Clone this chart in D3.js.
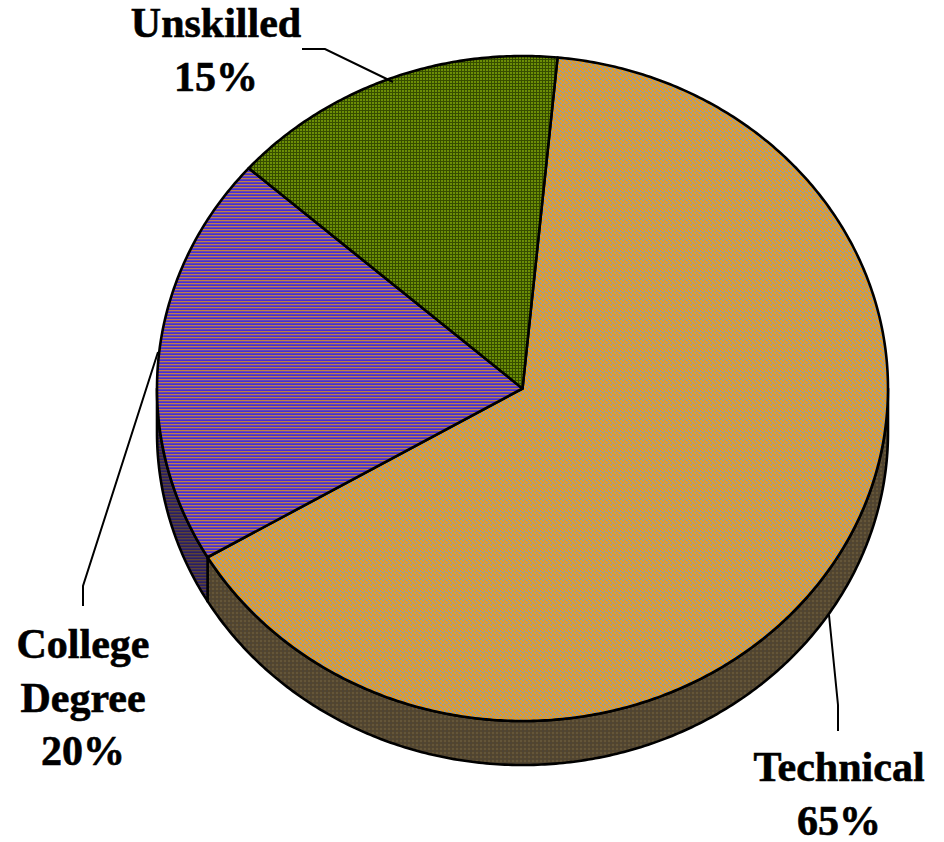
<!DOCTYPE html>
<html>
<head>
<meta charset="utf-8">
<script src="https://cdn.jsdelivr.net/npm/d3@7"></script>
<style>
  html, body { margin: 0; padding: 0; background: #fff; }
  svg { display: block; }
</style>
</head>
<body>
<svg id="chart" width="944" height="842"></svg>
<script>
// ---- data ----
const categories = ["Technical", "College Degree", "Unskilled"];
const values = [65, 20, 15];
const labelLines = [["Technical", "65%"], ["College", "Degree", "20%"], ["Unskilled", "15%"]];

// ---- layout ----
const W = 944, H = 842;
const cx = 522.5, cy = 388.5, rx = 365.5, ry = 332.5, depth = 44;
const startDeg = 5.5;

const svg = d3.select("#chart");
const defs = svg.append("defs");

function mkPattern(id, size, bg, rects) {
  const p = defs.append("pattern").attr("id", id)
    .attr("patternUnits", "userSpaceOnUse")
    .attr("width", size[0]).attr("height", size[1]);
  p.append("rect").attr("width", size[0]).attr("height", size[1]).attr("fill", bg);
  rects.forEach(r => p.append("rect").attr("x", r[0]).attr("y", r[1])
    .attr("width", r[2]).attr("height", r[3]).attr("fill", r[4]));
}
// Technical top: orange dots on grey
mkPattern("techTop", [4, 4], "#9a9c98", [[0,0,2,2,"#e89c22"],[2,2,2,2,"#e89c22"],[1,1,2,2,"#dc9c34"]]);
// Technical side: dark
mkPattern("techSide", [4, 4], "#54462e", [[0,0,2,2,"#64563a"],[2,2,2,2,"#4e4434"]]);
// College top: horizontal stripes
mkPattern("colTop", [4, 3], "#6248b8", [[0,0,4,1,"#482ed0"],[0,1,4,1,"#c07e46"]]);
// College side: dark stripes
mkPattern("colSide", [4, 3], "#3a2e5c", [[0,0,4,1,"#2a1e64"],[0,1,4,1,"#5e4430"]]);
// Unskilled top: green grid
mkPattern("unsTop", [3, 3], "#6c8e06", [[0,2,3,1,"#364c00"],[2,0,1,3,"#364c00"]]);
mkPattern("unsSide", [3, 3], "#3e5000", [[0,2,3,1,"#243200"],[2,0,1,3,"#243200"]]);

const topFill = ["url(#techTop)", "url(#colTop)", "url(#unsTop)"];
const sideFill = ["url(#techSide)", "url(#colSide)", "url(#unsSide)"];

const pie = d3.pie().sort(null)
  .startAngle(startDeg * Math.PI / 180)
  .endAngle(startDeg * Math.PI / 180 + 2 * Math.PI);
const arcs = pie(values);

function pt(a, dy) {
  return [cx + rx * Math.sin(a), cy - ry * Math.cos(a) + (dy || 0)];
}
function arcPts(a0, a1, dy) {
  const n = Math.max(2, Math.ceil(Math.abs(a1 - a0) / 0.01));
  return d3.range(n + 1).map(i => pt(a0 + (a1 - a0) * i / n, dy));
}
const line = d3.line();

const g = svg.append("g");

// sides (visible front half: PI/2 .. 3PI/2)
arcs.forEach((d, i) => {
  const s0 = Math.max(d.startAngle, Math.PI / 2);
  const s1 = Math.min(d.endAngle, 3 * Math.PI / 2);
  if (s0 < s1) {
    const pts = arcPts(s0, s1, 0).concat(arcPts(s1, s0, depth));
    g.append("path").attr("d", line(pts) + "Z")
      .attr("fill", sideFill[i])
      .attr("stroke", "#000").attr("stroke-width", 2.6)
      .attr("stroke-linejoin", "round");
  }
});

// tops
arcs.forEach((d, i) => {
  const pts = [[cx, cy]].concat(arcPts(d.startAngle, d.endAngle, 0));
  g.append("path").attr("d", line(pts) + "Z")
    .attr("fill", topFill[i])
    .attr("stroke", "#000").attr("stroke-width", 2.6)
    .attr("stroke-linejoin", "round");
});

// leader lines
const leaders = [
  [[838, 731], [838, 705], [829, 615]],
  [[83, 606], [83, 586], [158, 352]],
  [[302, 49], [325, 49], [393, 82]]
];
leaders.forEach(l => {
  g.append("path").attr("d", d3.line().curve(d3.curveLinear)(l))
    .attr("fill", "none").attr("stroke", "#000").attr("stroke-width", 2);
});

// labels
const labelPos = [
  { x: 839, y: 781 },
  { x: 83, y: 658 },
  { x: 216, y: 37 }
];
const lineH = 53.5;
labelLines.forEach((lines, i) => {
  const t = svg.append("text")
    .attr("text-anchor", "middle")
    .attr("font-family", "'Liberation Serif', 'Times New Roman', serif")
    .attr("font-weight", "bold")
    .attr("font-size", 42)
    .attr("fill", "#000")
    .attr("stroke", "#000").attr("stroke-width", 0.6);
  lines.forEach((s, j) => {
    t.append("tspan").attr("x", labelPos[i].x).attr("y", labelPos[i].y + j * lineH).text(s);
  });
});
</script>
</body>
</html>
